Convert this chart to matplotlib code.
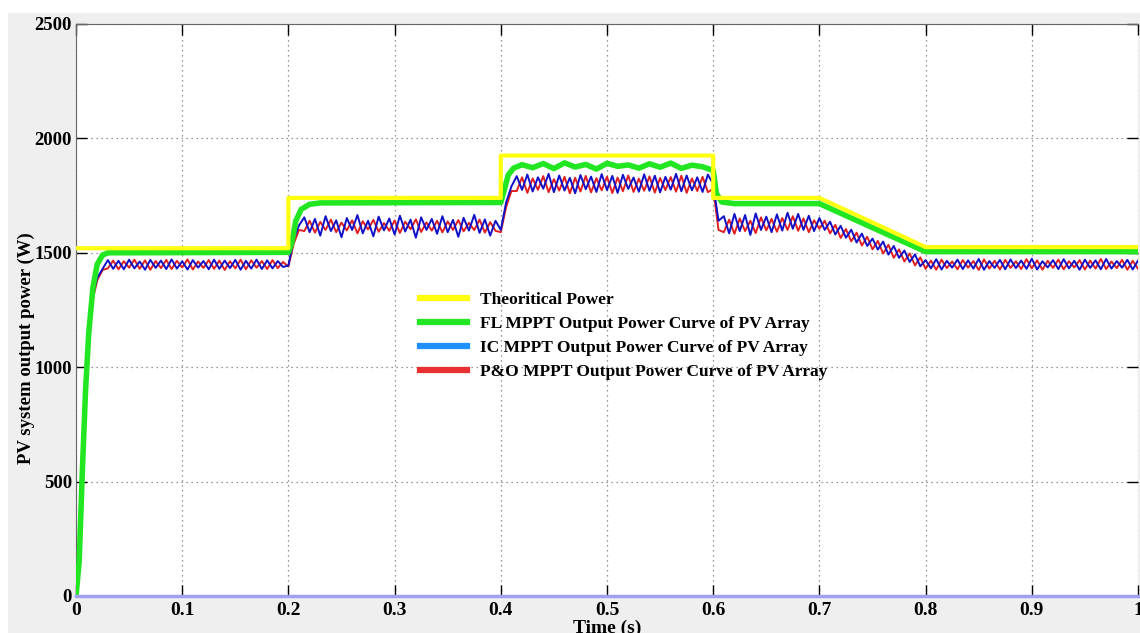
import numpy as np
import matplotlib.pyplot as plt
from matplotlib.lines import Line2D
from matplotlib.patches import Rectangle

plt.rcParams['font.family'] = ['Liberation Serif', 'DejaVu Serif']
plt.rcParams['font.weight'] = 'bold'

# ---------------- data ----------------
# theoretical power (piecewise)
t_theory = [0, 0.2, 0.2, 0.4, 0.4, 0.6, 0.6, 0.7, 0.8, 1.0]
p_theory = [1520, 1520, 1740, 1740, 1925, 1925, 1740, 1740, 1525, 1525]

# FL MPPT
t_fl = [0, 0.003, 0.006, 0.009, 0.012, 0.016, 0.02, 0.025, 0.03, 0.2,
        0.203, 0.207, 0.212, 0.22, 0.23, 0.4, 0.403, 0.407, 0.412, 0.42,
        0.43, 0.44, 0.45, 0.46, 0.47, 0.48, 0.49, 0.50, 0.51, 0.52,
        0.53, 0.54, 0.55, 0.56, 0.57, 0.58, 0.59, 0.6, 0.603, 0.608,
        0.62, 0.7, 0.8, 1.0]
p_fl = [0, 150, 550, 900, 1150, 1350, 1450, 1490, 1500, 1502,
        1540, 1640, 1690, 1712, 1718, 1720, 1770, 1840, 1870, 1885,
        1872, 1890, 1868, 1893, 1875, 1886, 1866, 1891, 1878, 1884,
        1870, 1889, 1874, 1892, 1869, 1883, 1876, 1860, 1760, 1722,
        1715, 1715, 1505, 1505]

# IC and P&O MPPT, sampled every 5 ms from 0 to 1 s
t_mppt = np.linspace(0, 1, 201)
p_ic = [0, 420, 1000, 1300, 1390, 1430,
        1468, 1430, 1465, 1428, 1470, 1432, 1462, 1426, 1469, 1434,
        1466, 1429, 1471, 1431, 1463, 1427, 1468, 1435, 1464, 1428,
        1470, 1430, 1466, 1433, 1469, 1426, 1465, 1431, 1470, 1429,
        1467, 1432, 1464, 1438,
        1445, 1560, 1620,
        1655, 1590, 1648, 1575, 1660, 1595, 1642, 1568, 1652, 1600,
        1665, 1585, 1640, 1572, 1658, 1598, 1650, 1580, 1662, 1593,
        1645, 1566, 1655, 1600, 1648, 1583, 1660, 1590, 1644, 1570,
        1653, 1597, 1666, 1587, 1646, 1575, 1640,
        1600, 1720, 1790,
        1835, 1775, 1842, 1768, 1830, 1780, 1845, 1765, 1838, 1772,
        1828, 1760, 1840, 1778, 1833, 1766, 1844, 1774, 1836, 1762,
        1841, 1779, 1829, 1767, 1843, 1771, 1837, 1764, 1832, 1776,
        1845, 1769, 1838, 1773, 1830, 1766, 1842,
        1800, 1640,
        1660, 1585, 1670, 1595, 1665, 1578, 1672, 1600, 1658, 1590,
        1668, 1597, 1675, 1605, 1670, 1600, 1662, 1595,
        1652, 1600, 1636, 1580, 1618, 1566, 1601, 1545, 1584, 1530,
        1562, 1514, 1549, 1492, 1530, 1478, 1510, 1460, 1493, 1441,
        1468, 1432, 1472, 1427, 1465, 1435, 1470, 1429, 1467, 1431,
        1473, 1426, 1464, 1434, 1469, 1428, 1471, 1433, 1466, 1430,
        1474, 1427, 1463, 1436, 1468, 1429, 1472, 1432, 1465, 1426,
        1470, 1434, 1467, 1428, 1473, 1431, 1464, 1435, 1469, 1427,
        1466]
p_po = [0, 350, 950, 1280, 1380, 1425,
        1432, 1466, 1428, 1463, 1435, 1470, 1430, 1467, 1426, 1464,
        1433, 1469, 1429, 1465, 1436, 1471, 1427, 1462, 1434, 1468,
        1430, 1466, 1425, 1463, 1432, 1470, 1428, 1467, 1435, 1464,
        1429, 1468, 1433, 1460,
        1440, 1540, 1600,
        1595, 1640, 1588, 1635, 1600, 1645, 1590, 1632, 1598, 1642,
        1585, 1638, 1602, 1644, 1592, 1630, 1596, 1641, 1587, 1636,
        1603, 1646, 1591, 1633, 1597, 1640, 1589, 1637, 1600, 1643,
        1594, 1631, 1599, 1645, 1588, 1634, 1596,
        1590, 1700, 1770,
        1770, 1830, 1762, 1825, 1775, 1835, 1765, 1822, 1772, 1832,
        1760, 1828, 1768, 1836, 1764, 1826, 1773, 1833, 1761, 1829,
        1769, 1838, 1766, 1824, 1771, 1834, 1763, 1827, 1774, 1831,
        1767, 1837, 1762, 1825, 1770, 1832, 1765,
        1780, 1600,
        1590, 1645, 1583, 1650, 1595, 1640, 1586, 1655, 1598, 1648,
        1592, 1652, 1600, 1660, 1596, 1650, 1590, 1642,
        1605, 1640, 1585, 1622, 1565, 1604, 1550, 1588, 1532, 1570,
        1515, 1552, 1497, 1535, 1478, 1515, 1462, 1497, 1445, 1480,
        1430, 1466, 1426, 1470, 1433, 1462, 1428, 1468, 1435, 1464,
        1425, 1471, 1431, 1465, 1427, 1469, 1434, 1463, 1429, 1472,
        1432, 1467, 1426, 1465, 1434, 1470, 1428, 1463, 1436, 1468,
        1427, 1466, 1431, 1473, 1429, 1462, 1433, 1469, 1426, 1465,
        1430]

labels = ['Theoritical Power',
          'FL MPPT Output Power Curve of PV Array',
          'IC MPPT Output Power Curve of PV Array',
          'P&O MPPT Output Power Curve of PV Array']

W, H = 1140, 633
fig = plt.figure(figsize=(W / 100, H / 100), dpi=100, facecolor='white')
# grey panel behind the axes
fig.patches.append(Rectangle((8 / W, 0), 1, 1 - 13 / H, transform=fig.transFigure,
                             facecolor='#efefef', edgecolor='none', zorder=-10))

ax = fig.add_axes([76 / W, (H - 596) / H, 1062 / W, 572 / H])
ax.set_facecolor('white')

ax.plot(t_mppt, p_po, color='#e02020', lw=1.4, zorder=2)
ax.plot(t_mppt, p_ic, color='#1010c8', lw=1.4, zorder=3)
ax.plot(t_fl, p_fl, color='#22e622', lw=4, zorder=4, solid_joinstyle='round')
ax.plot(t_theory, p_theory, color='#ffff10', lw=3, zorder=5)
# bottom trace at zero
ax.plot([0, 1.01], [0, 0], color='#a0a0f0', lw=2.5, zorder=6, clip_on=False)

ax.set_xlim(0, 1)
ax.set_ylim(0, 2500)
ax.set_xticks(np.arange(0, 1.01, 0.1))
ax.set_xticklabels(['0', '0.1', '0.2', '0.3', '0.4', '0.5', '0.6', '0.7', '0.8', '0.9', '1'])
ax.set_yticks([0, 500, 1000, 1500, 2000, 2500])
ax.grid(True, color='#777777', linestyle=(0, (1, 3)), lw=0.9)
ax.tick_params(direction='in', length=8, width=1, top=True, right=True,
               labelsize=14, pad=4)
ax.tick_params(axis='y', labelsize=13.5, pad=3)
for s in ['left', 'top']:
    ax.spines[s].set_color('#666666')
ax.spines['right'].set_visible(False)
ax.spines['bottom'].set_visible(False)
for lab in ax.get_xticklabels() + ax.get_yticklabels():
    lab.set_fontweight('bold')

fig.text(26 / W, 1 - 348 / H, 'PV system output power (W)', rotation=90,
         ha='center', va='center', fontsize=13.5, fontweight='bold')
fig.text(607 / W, 1 - 628 / H, 'Time (s)', ha='center', va='center',
         fontsize=14, fontweight='bold')

handles = [Line2D([], [], color=c, lw=4.5)
           for c in ['#ffff10', '#22e622', '#1e90ff', '#e83030']]
ax.legend(handles, labels, loc='upper left', frameon=False,
          bbox_to_anchor=(420 / W, 1 - 292 / H), bbox_transform=fig.transFigure,
          borderpad=0, borderaxespad=0, handlelength=2.7, handletextpad=0.75,
          labelspacing=0.45, prop={'size': 12.5, 'weight': 'bold'})

fig.savefig('out.png', dpi=100, facecolor=fig.get_facecolor())
